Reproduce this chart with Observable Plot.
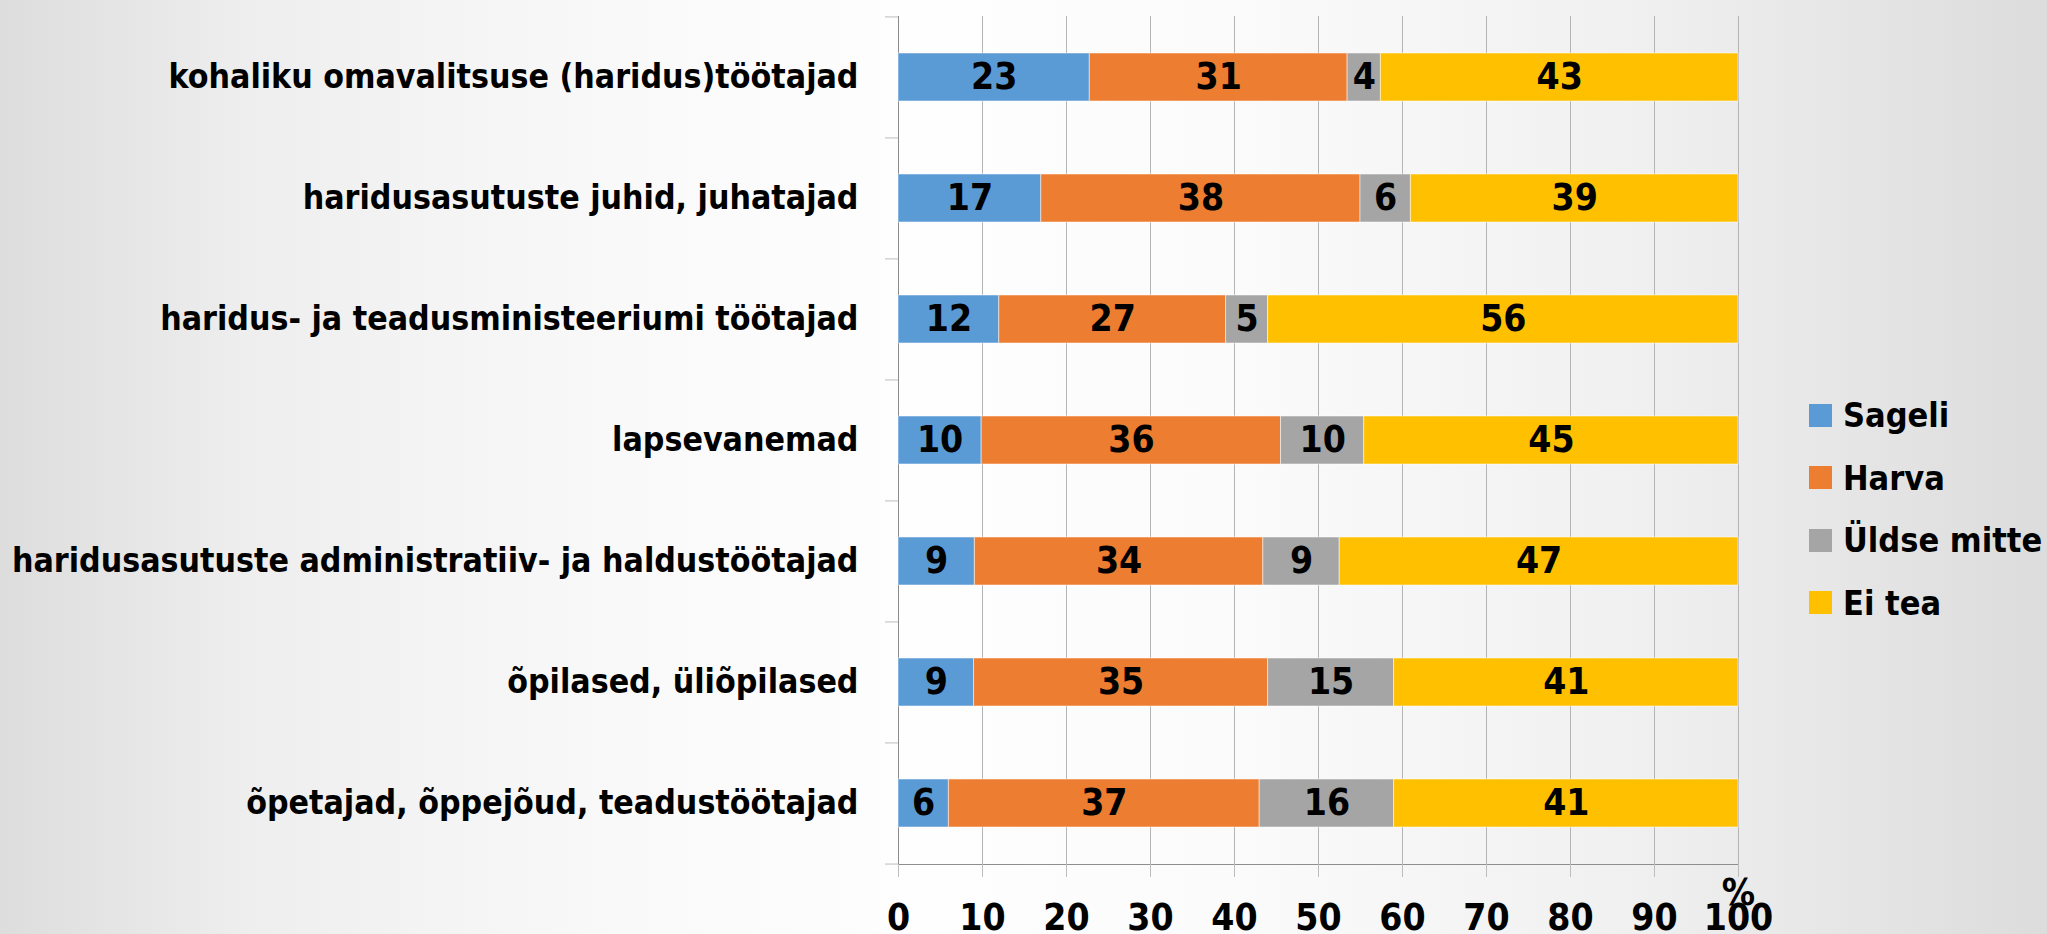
<!DOCTYPE html>
<html><head><meta charset="utf-8">
<script src="https://cdn.jsdelivr.net/npm/d3@7"></script>
<script src="https://cdn.jsdelivr.net/npm/@observablehq/plot@0.6"></script>
<style>
html,body{margin:0;padding:0;}
body{width:2047px;height:934px;overflow:hidden;
  background:linear-gradient(to right,#dddddd 0%,#eeeeee 12%,#f9f9f9 30%,#fefefe 45%,#fbfbfb 60%,#f0f0f0 80%,#dcdcdc 100%);
  font-family:"DejaVu Sans Condensed",sans-serif;}
#wrap{position:relative;width:2047px;height:934px;}
#legend{position:absolute;left:1809px;top:384px;}
#legend [class$="-swatch"]{height:62.5px;display:flex;align-items:center;padding:0;margin:0;}
#legend svg{margin-right:11px !important;}
#legend, #legend *{font-family:"DejaVu Sans Condensed",sans-serif;font-size:34px;font-weight:bold;color:#000;}
</style></head><body><div id="wrap"></div>
<script>
const categories = [
  "kohaliku omavalitsuse (haridus)töötajad",
  "haridusasutuste juhid, juhatajad",
  "haridus- ja teadusministeeriumi töötajad",
  "lapsevanemad",
  "haridusasutuste administratiiv- ja haldustöötajad",
  "õpilased, üliõpilased",
  "õpetajad, õppejõud, teadustöötajad"
];
const series = ["Sageli", "Harva", "Üldse mitte", "Ei tea"];
const sageli = [23, 17, 12, 10, 9, 9, 6];
const harva = [31, 38, 27, 36, 34, 35, 37];
const yldseMitte = [4, 6, 5, 10, 9, 15, 16];
const eiTea = [43, 39, 56, 45, 47, 41, 41];
const colors = ["#5B9BD5", "#ED7D31", "#A5A5A5", "#FFC000"];
const xTicks = [0, 10, 20, 30, 40, 50, 60, 70, 80, 90, 100];
const unitLabel = "%";

const seriesValues = [sageli, harva, yldseMitte, eiTea];
const data = categories.flatMap((c, i) => seriesValues.map((arr, j) => ({cat: c, series: series[j], value: arr[i]})));
const tickFractions = xTicks.map(v => v / 100);

const W = 2047, H = 934;
const mTop = 16, mBottom = 70;
const step = (H - mTop - mBottom) / categories.length;
const font = '"DejaVu Sans Condensed",sans-serif';
const fsCat = 33.6, fsNum = 37;

const color = {domain: series, range: colors};

const chart = Plot.plot({
  width: W, height: H,
  marginLeft: 898, marginRight: 309, marginTop: mTop, marginBottom: mBottom,
  style: {background: "transparent", fontFamily: font, fontSize: fsCat + "px", fontWeight: "bold", color: "#000", overflow: "visible"},
  x: {domain: [0, 1], axis: null},
  y: {domain: categories, paddingInner: 0.6, paddingOuter: 0.3, axis: null},
  color,
  marks: [
    Plot.gridX(tickFractions, {stroke: "#b4b4b4", strokeOpacity: 1, strokeWidth: 1}),
    Plot.ruleX([0], {stroke: "#8a8a8a"}),
    Plot.frame({anchor: "bottom", stroke: "#8e8e8e"}),
    Plot.axisY({tickSize: 0, tickPadding: 40, fill: "#000", fontSize: fsCat, fontWeight: "bold", label: null}),
    Plot.axisY({tickSize: 13, dy: -step / 2, stroke: "#bdbdbd", tickFormat: () => "", label: null}),
    Plot.axisY([categories[categories.length - 1]], {tickSize: 13, dy: step / 2, stroke: "#bdbdbd", tickFormat: () => "", label: null}),
    Plot.axisX(tickFractions, {tickSize: 13, tickPadding: 26, stroke: "#bdbdbd", fill: "#000", fontSize: fsNum, fontWeight: "bold", label: null, tickFormat: d => String(Math.round(d * 100))}),
    Plot.text([unitLabel], {frameAnchor: "bottom-right", textAnchor: "middle", dy: 40, fontSize: fsNum, fill: "#000"}),
    Plot.barX(data, Plot.stackX({x: "value", y: "cat", fill: "series", offset: "normalize", stroke: "#ffffff", strokeOpacity: 0.5, strokeWidth: 1})),
    Plot.text(data, Plot.stackX({x: "value", y: "cat", z: "series", offset: "normalize", text: d => String(d.value), fill: "#000", fontSize: fsNum, fontWeight: "bold"}))
  ]
});

const wrap = document.getElementById("wrap");
wrap.appendChild(chart);

const legend = Plot.legend({color, columns: 1, swatchSize: 23, className: "lg"});
const ldiv = document.createElement("div");
ldiv.id = "legend";
ldiv.appendChild(legend);
wrap.appendChild(ldiv);
</script>
</body></html>
